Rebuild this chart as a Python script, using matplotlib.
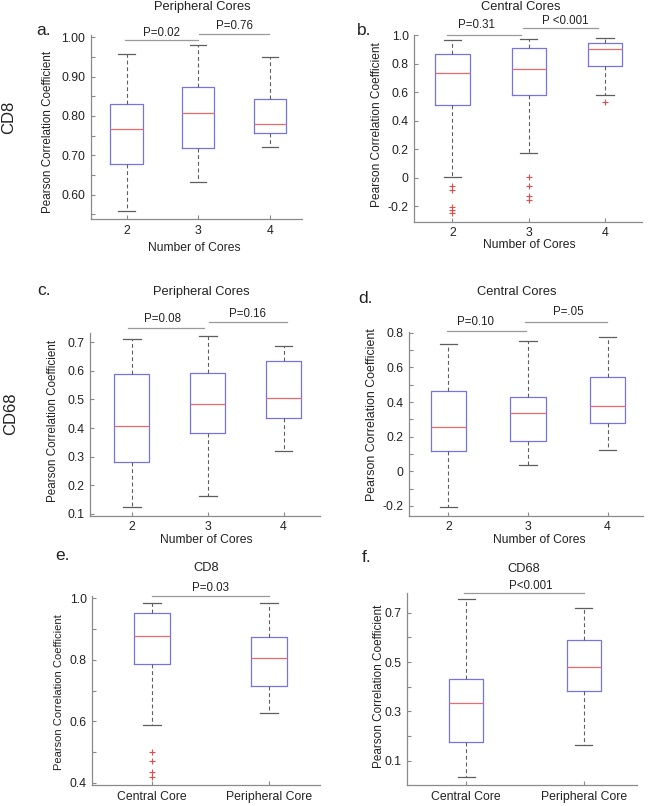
import matplotlib
matplotlib.use("Agg")
import matplotlib.pyplot as plt
from matplotlib.ticker import FixedLocator, FixedFormatter

plt.rcParams['font.family'] = ['Liberation Sans', 'DejaVu Sans']

W, H = 658, 806

# ---------------- data ----------------
cores_labels = ['2', '3', '4']
core_type_labels = ['Central Core', 'Peripheral Core']

# a. CD8 peripheral cores
a_med = [0.768, 0.807, 0.779]
a_q1 = [0.678, 0.719, 0.756]
a_q3 = [0.8295, 0.875, 0.844]
a_lo = [0.558, 0.631, 0.722]
a_hi = [0.958, 0.980, 0.951]
a_fl = [[], [], []]

# b. CD8 central cores
b_med = [0.734, 0.760, 0.900]
b_q1 = [0.507, 0.577, 0.785]
b_q3 = [0.865, 0.907, 0.942]
b_lo = [0.003, 0.173, 0.577]
b_hi = [0.963, 0.972, 0.977]
b_fl = [[-0.056, -0.086, -0.210, -0.226, -0.249],
        [0.005, -0.058, -0.133, -0.161],
        [0.528]]

# c. CD68 peripheral cores
c_med = [0.406, 0.483, 0.505]
c_q1 = [0.282, 0.382, 0.435]
c_q3 = [0.588, 0.592, 0.635]
c_lo = [0.123, 0.162, 0.319]
c_hi = [0.710, 0.720, 0.688]
c_fl = [[], [], []]

# d. CD68 central cores
d_med = [0.258, 0.335, 0.377]
d_q1 = [0.116, 0.177, 0.277]
d_q3 = [0.462, 0.429, 0.544]
d_lo = [-0.207, 0.038, 0.121]
d_hi = [0.733, 0.754, 0.777]
d_fl = [[], [], []]

# e. CD8 central vs peripheral
e_med = [0.877, 0.806]
e_q1 = [0.785, 0.716]
e_q3 = [0.951, 0.875]
e_lo = [0.587, 0.627]
e_hi = [0.984, 0.984]
e_fl = [[0.499, 0.470, 0.434, 0.418], []]

# f. CD68 central vs peripheral
f_med = [0.333, 0.481]
f_q1 = [0.176, 0.381]
f_q3 = [0.431, 0.589]
f_lo = [0.035, 0.162]
f_hi = [0.757, 0.718]
f_fl = [[], []]

# tick values / labels
a_yt = [0.60, 0.70, 0.80, 0.90, 1.00]
a_ytl = ['0.60', '0.70', '0.80', '0.90', '1.00']
a_ym = [0.55, 0.65, 0.75, 0.85, 0.95]
b_yt = [-0.2, 0.0, 0.2, 0.4, 0.6, 0.8, 1.0]
b_ytl = ['-0.2', '0', '0.2', '0.4', '0.6', '0.8', '1.0']
c_yt = [0.1, 0.2, 0.3, 0.4, 0.5, 0.6, 0.7]
c_ytl = ['0.1', '0.2', '0.3', '0.4', '0.5', '0.6', '0.7']
d_yt = [-0.2, 0.0, 0.2, 0.4, 0.6, 0.8]
d_ytl = ['-0.2', '0', '0.2', '0.4', '0.6', '0.8']
d_ym = [-0.1, 0.1, 0.3, 0.5, 0.7]
e_yt = [0.4, 0.6, 0.8, 1.0]
e_ytl = ['0.4', '0.6', '0.8', '1.0']
e_ym = [0.5, 0.7, 0.9]
f_yt = [0.1, 0.3, 0.5, 0.7]
f_ytl = ['0.1', '0.3', '0.5', '0.7']
f_ym = [0.2, 0.4, 0.6]

# p-value annotations: (x1, x2, line_y, text, text_x, text_y)
a_p = [(1.98, 3.0, 0.993, 'P=0.02', 2.49, 1.010),
       (3.01, 3.99, 1.009, 'P=0.76', 3.51, 1.029)]
b_p = [(1.93, 2.90, 0.998, 'P=0.31', 2.31, 1.070),
       (2.92, 3.91, 1.047, 'P <0.001', 3.48, 1.100)]
c_p = [(1.955, 2.95, 0.749, 'P=0.08', 2.40, 0.780),
       (3.02, 4.05, 0.770, 'P=0.16', 3.52, 0.799)]
d_p = [(1.98, 2.97, 0.808, 'P=0.10', 2.34, 0.860),
       (2.96, 3.99, 0.863, 'P=.05', 3.51, 0.921)]
e_p = [(1.0, 2.0, 1.0075, 'P=0.03', 1.506, 1.033)]
f_p = [(0.98, 2.0, 0.779, 'P<0.001', 1.55, 0.809)]

# ---------------- styling ----------------
TXT = '#222222'
SPINE = '#8a8a8a'
BOX = '#7474e6'
MED = '#ec6a6a'
WHISK = '#5e5e5e'
SIG = '#9a9a9a'

fig = plt.figure(figsize=(W / 100, H / 100), dpi=100)
fig.patch.set_facecolor('white')


def fx(px):
    return px / W


def fy(py):
    return 1 - py / H


def make_axes(l, t, r, b):
    return fig.add_axes([fx(l), fy(b), (r - l) / W, (b - t) / H])


def stats(med, q1, q3, lo, hi, fl):
    return [dict(med=m, q1=a, q3=c, whislo=lw, whishi=hw, fliers=f)
            for m, a, c, lw, hw, f in zip(med, q1, q3, lo, hi, fl)]


def panel(box, positions, xlabels, st, width, xlim, ylim, yt, ytl, ym,
          pvals, title, title_xy, ylab_xy, ylab_size, xlab_xy=None):
    ax = make_axes(*box)
    ax.bxp(st, positions=positions, widths=width, showfliers=True,
           manage_ticks=False, patch_artist=False,
           boxprops=dict(color=BOX, linewidth=0.9),
           medianprops=dict(color=MED, linewidth=0.9),
           whiskerprops=dict(color=WHISK, linewidth=0.8, linestyle=(0, (3.5, 2.5))),
           capprops=dict(color=WHISK, linewidth=0.9),
           flierprops=dict(marker='+', markeredgecolor='#e84a4a', markersize=4,
                           markeredgewidth=0.8, linestyle='none'))
    ax.set_xlim(*xlim)
    ax.set_ylim(*ylim)
    ax.set_xticks(positions)
    ax.set_xticklabels(xlabels)
    ax.yaxis.set_major_locator(FixedLocator(yt))
    ax.yaxis.set_major_formatter(FixedFormatter(ytl))
    if ym:
        ax.yaxis.set_minor_locator(FixedLocator(ym))
    for s in ['top', 'right']:
        ax.spines[s].set_visible(False)
    for s in ['left', 'bottom']:
        ax.spines[s].set_color(SPINE)
        ax.spines[s].set_linewidth(0.9)
    ax.tick_params(axis='both', which='both', direction='in', color=SPINE,
                   labelcolor=TXT, labelsize=8.8, width=0.8, pad=4)
    ax.tick_params(axis='both', which='major', length=3)
    ax.tick_params(axis='both', which='minor', length=3)
    for (x1, x2, ly, t, tx, ty) in pvals:
        ax.plot([x1, x2], [ly, ly], color=SIG, linewidth=0.9, clip_on=False)
        ax.text(tx, ty, t, ha='center', va='center', fontsize=8.3,
                color=TXT, clip_on=False)
    ax.text(fx(title_xy[0]), fy(title_xy[1]), title, transform=fig.transFigure,
            ha='center', va='center', fontsize=9.3, color=TXT)
    ax.set_ylabel('Pearson Correlation Coefficient', fontsize=ylab_size,
                  color=TXT, va='center', ha='center')
    ax.yaxis.set_label_coords(fx(ylab_xy[0]), fy(ylab_xy[1]),
                              transform=fig.transFigure)
    if xlab_xy is not None:
        ax.set_xlabel('Number of Cores', fontsize=8.7, color=TXT,
                      va='center', ha='center')
        ax.xaxis.set_label_coords(fx(xlab_xy[0]), fy(xlab_xy[1]),
                                  transform=fig.transFigure)
    return ax


pos3 = [2, 3, 4]
pos2 = [1, 2]

panel((90.7, 35, 302, 219), pos3, cores_labels,
      stats(a_med, a_q1, a_q3, a_lo, a_hi, a_fl), 0.45, (1.5, 4.45), (0.538, 1.006),
      a_yt, a_ytl, a_ym, a_p, 'Peripheral Cores', (202.7, 7), (47.7, 131.7), 8.4,
      (194.3, 248.3))
panel((414.3, 35, 641.7, 221.7), pos3, cores_labels,
      stats(b_med, b_q1, b_q3, b_lo, b_hi, b_fl), 0.45, (1.5, 4.48), (-0.31, 1.0),
      b_yt, b_ytl, None, b_p, 'Central Cores', (521, 6.5), (376.7, 125), 8.6,
      (529.3, 245))
panel((90, 333, 320, 515.7), pos3, cores_labels,
      stats(c_med, c_q1, c_q3, c_lo, c_hi, c_fl), 0.466, (1.45, 4.48), (0.094, 0.732),
      c_yt, c_ytl, None, c_p, 'Peripheral Cores', (201.7, 292), (53.3, 420.8), 8.4,
      (206.7, 540))
panel((408.7, 331.7, 643.3, 515.7), pos3, cores_labels,
      stats(d_med, d_q1, d_q3, d_lo, d_hi, d_fl), 0.45, (1.5, 4.45), (-0.256, 0.806),
      d_yt, d_ytl, d_ym, d_p, 'Central Cores', (516.7, 292), (372.3, 415), 8.9,
      (539, 540))
panel((92.3, 596, 320, 785.3), pos2, core_type_labels,
      stats(e_med, e_q1, e_q3, e_lo, e_hi, e_fl), 0.31, (0.49, 2.44), (0.392, 1.0075),
      e_yt, e_ytl, e_ym, e_p, 'CD8', (205.7, 568.3), (59.3, 691.7), 8.0)
panel((407.3, 593.3, 636.7, 785.3), pos2, core_type_labels,
      stats(f_med, f_q1, f_q3, f_lo, f_hi, f_fl), 0.29, (0.5, 2.45), (0.0, 0.779),
      f_yt, f_ytl, f_ym, f_p, 'CD68', (523.3, 569.3), (379, 686.7), 8.45)

# panel letters
for t, x, y in [('a.', 36, 35), ('b.', 357, 35), ('c.', 37, 295),
                ('d.', 358, 303), ('e.', 55, 560), ('f.', 362, 562)]:
    fig.text(fx(x), fy(y), t, ha='left', va='baseline', fontsize=12.5, color=TXT)

# row labels
fig.text(fx(8.5), fy(117), 'CD8', rotation=90, ha='center', va='center',
         fontsize=12, color=TXT)
fig.text(fx(11), fy(414), 'CD68', rotation=90, ha='center', va='center',
         fontsize=12, color=TXT)

fig.savefig('out.png', dpi=100, facecolor='white')
